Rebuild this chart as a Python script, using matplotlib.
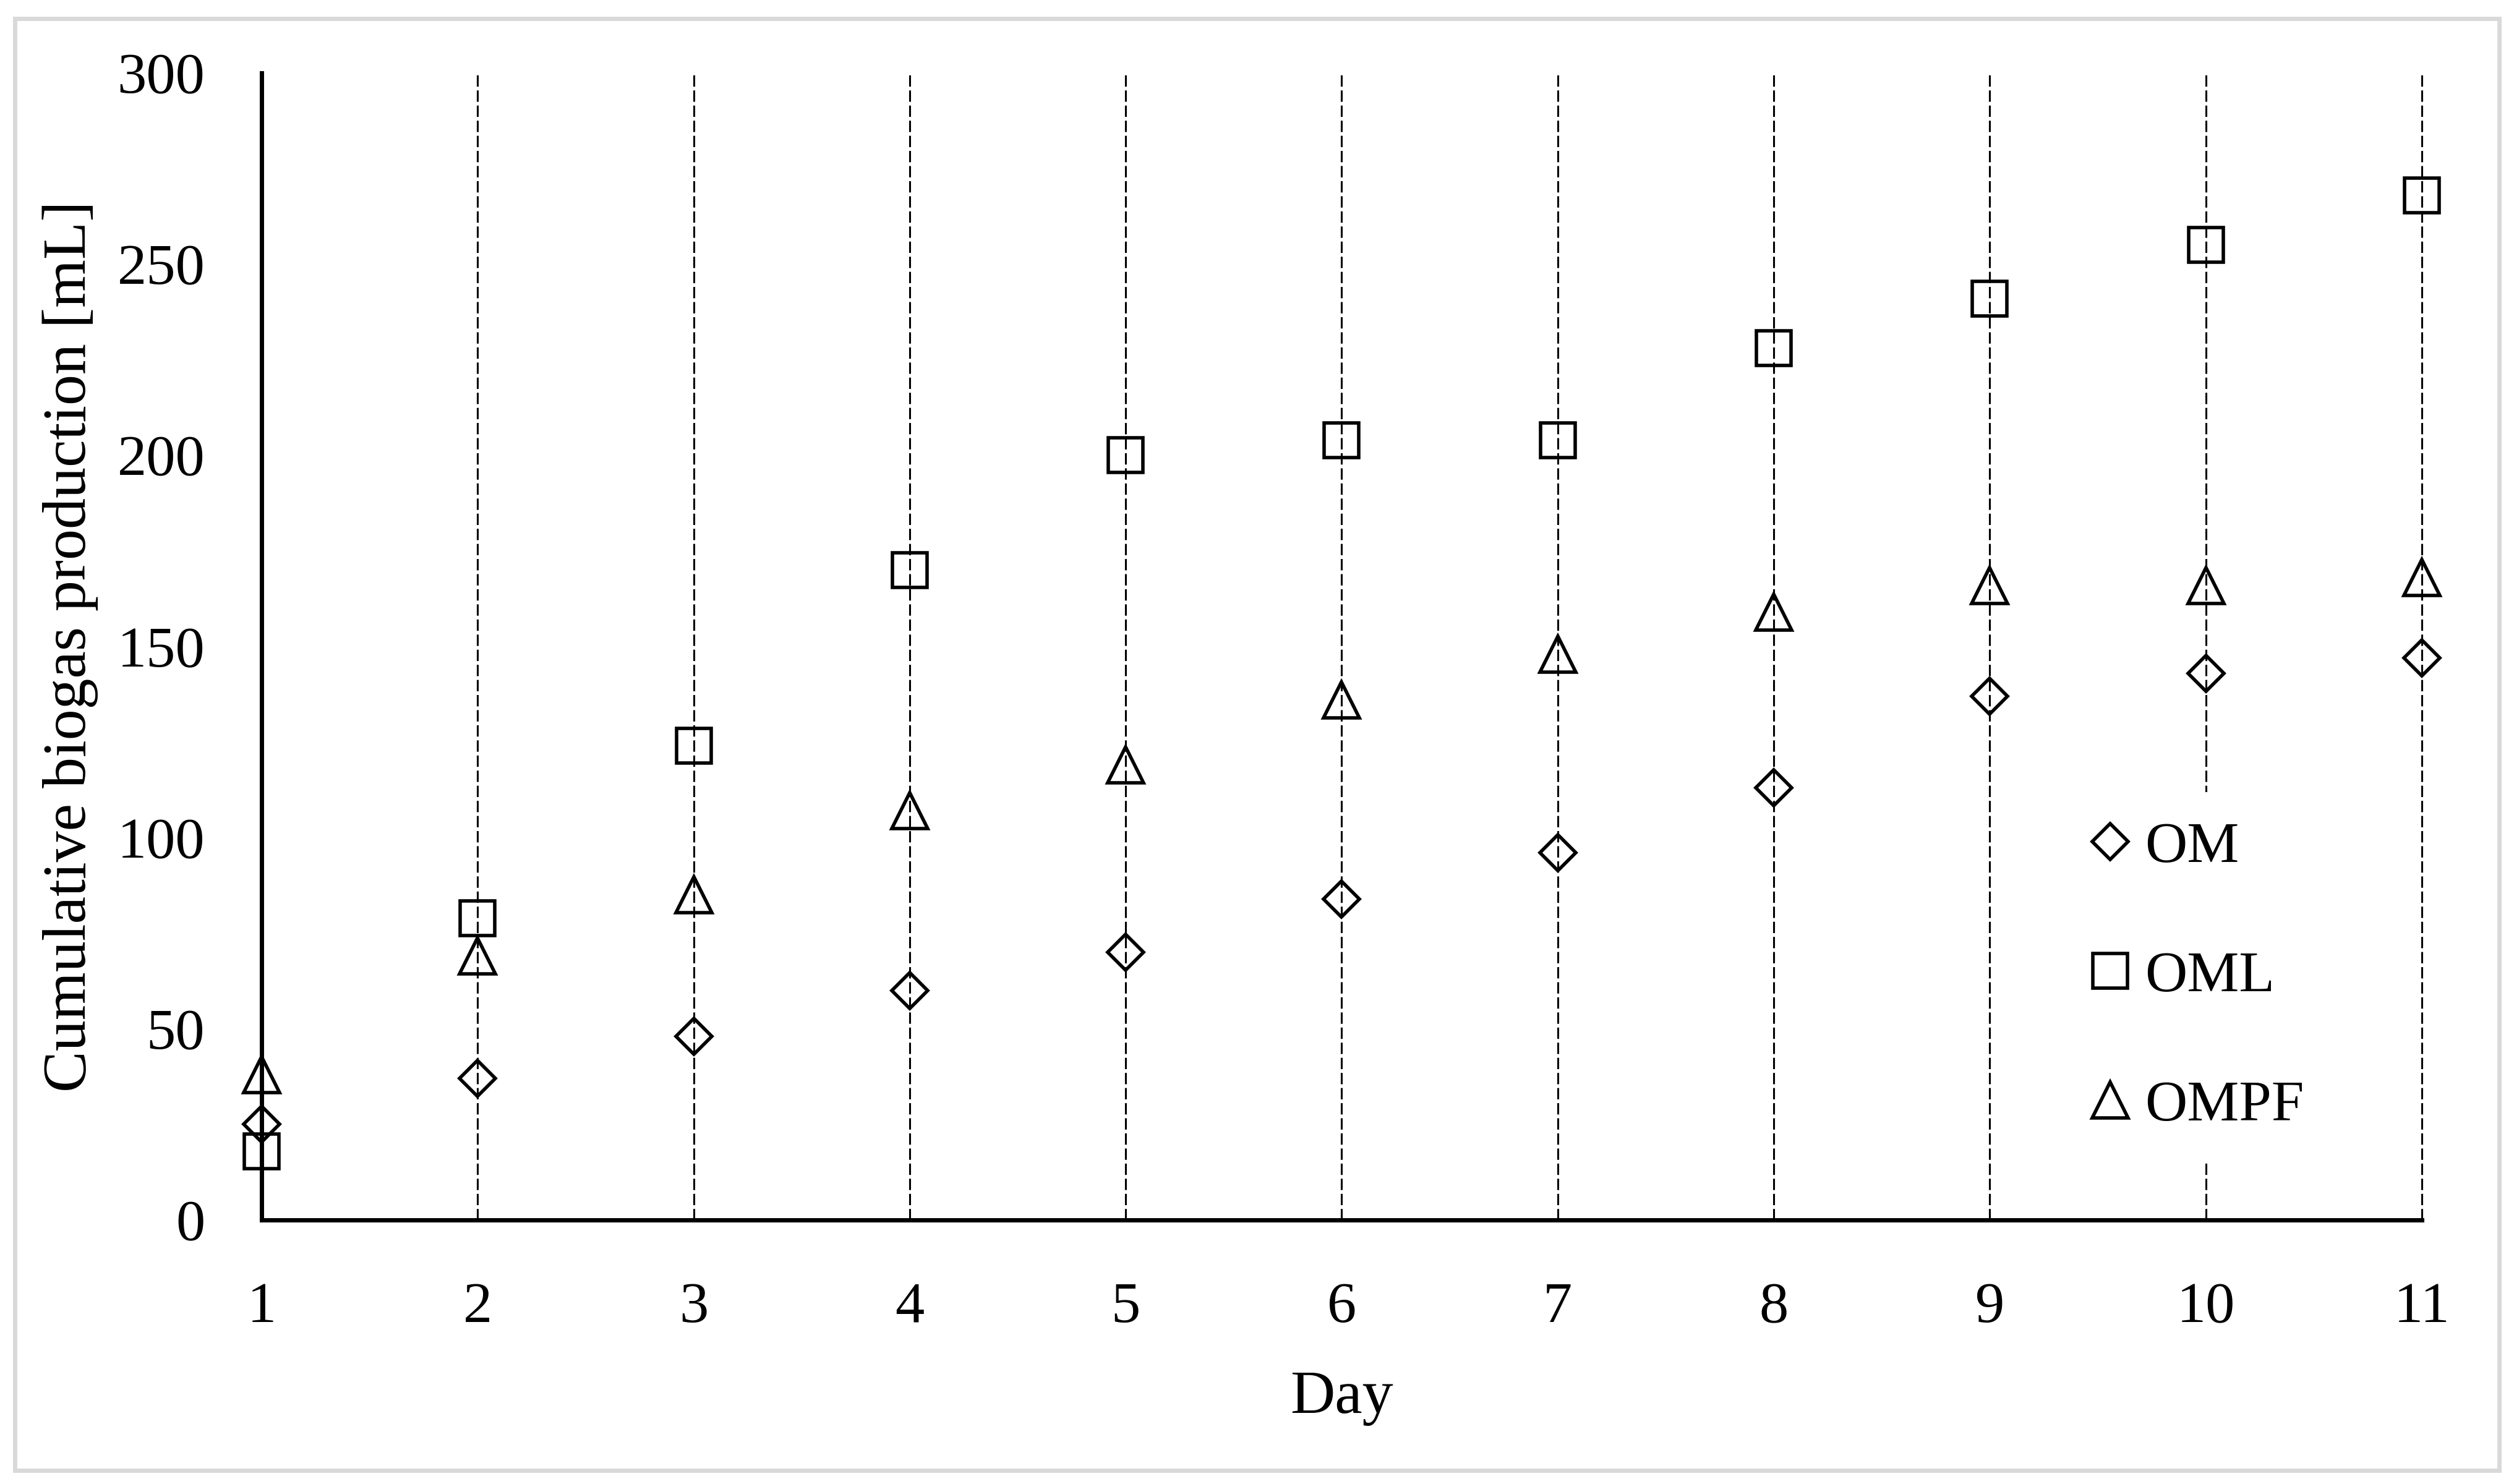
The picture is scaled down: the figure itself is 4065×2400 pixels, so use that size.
import numpy as np
import matplotlib
matplotlib.use("Agg")
import matplotlib.pyplot as plt
from matplotlib.patches import Rectangle

days = [1, 2, 3, 4, 5, 6, 7, 8, 9, 10, 11]
om = [25, 37, 48, 60, 70, 84, 96, 113, 137, 143, 147]
oml = [18, 79, 124, 170, 200, 204, 204, 228, 241, 255, 268]
ompf = [38, 69, 85, 107, 119, 136, 148, 159, 166, 166, 168]
y_ticks = [0, 50, 100, 150, 200, 250, 300]

plt.rcParams['font.family'] = ['Liberation Serif', 'DejaVu Serif']

W, H = 4066, 2400
fig = plt.figure(figsize=(W / 200, H / 200), dpi=200)
ax = fig.add_axes([423 / W, 1 - 1973 / H, (3916 - 423) / W, (1973 - 118) / H])

# thin grey frame round the whole picture
fig.patches.append(Rectangle((24 / W, 1 - 2378 / H), (4041 - 24) / W, (2378 - 30) / H,
                             transform=fig.transFigure, fill=False,
                             edgecolor='#d9d9d9', linewidth=2.5))

style = dict(linestyle='none', fillstyle='none', color='black',
             markeredgewidth=2.0, clip_on=False, zorder=5)
ax.plot(days, om, marker='D', markersize=15, label='OM', **style)
ax.plot(days, oml, marker='s', markersize=20.5, label='OML', **style)
ax.plot(days, ompf, marker='^', markersize=21, label='OMPF', **style)

ax.set_xlim(1, 11)
ax.set_ylim(0, 300)
ax.set_xticks(days)
ax.set_yticks(y_ticks)
ax.tick_params(length=0, labelsize=34)
ax.tick_params(axis='x', pad=36)
ax.tick_params(axis='y', pad=33)

ax.grid(axis='x', color='black', linestyle=(0, (6, 2)), linewidth=1.1, zorder=1)
for gl in ax.get_xgridlines():
    gl.set_clip_on(False)
ax.set_axisbelow(True)
for s in ['top', 'right']:
    ax.spines[s].set_visible(False)
for s in ['left', 'bottom']:
    ax.spines[s].set_linewidth(2.5)

ax.set_xlabel('Day', fontsize=36, labelpad=21)
ax.set_ylabel('Cumulative biogas production [mL]', fontsize=36, labelpad=11)

leg = ax.legend(loc='center left', bbox_to_anchor=(0.8205, 0.3417),
                bbox_transform=fig.transFigure, fontsize=34, frameon=True,
                fancybox=False, edgecolor='none', facecolor='white', framealpha=1,
                numpoints=1, handlelength=0.6, handletextpad=0.3,
                labelspacing=1.3, borderpad=0.5, borderaxespad=0)
leg.set_zorder(3)

fig.savefig('out.png', dpi=200)
